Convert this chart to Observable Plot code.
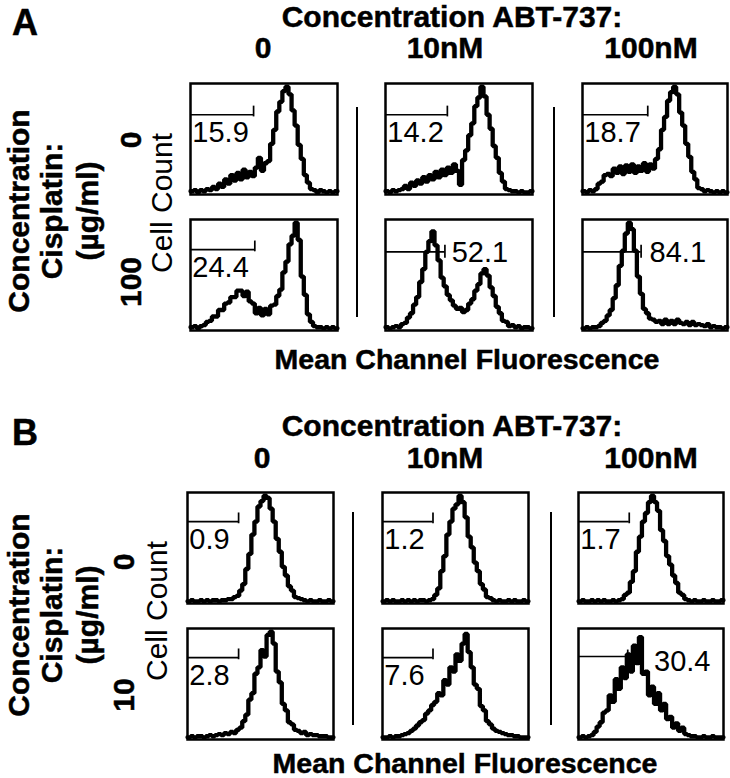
<!DOCTYPE html>
<html><head><meta charset="utf-8">
<script src="https://cdn.jsdelivr.net/npm/d3@7"></script>
<script src="https://cdn.jsdelivr.net/npm/@observablehq/plot@0.6"></script>
<style>
body{margin:0;background:#fff;}
#fig{position:relative;width:730px;height:778px;overflow:hidden;font-family:"Liberation Sans",Arial,sans-serif;color:#000;}
.lbl{position:absolute;white-space:nowrap;line-height:1;}
.b{font-weight:bold;-webkit-text-stroke:0.5px #000;}
.rot{transform:translate(-50%,-50%) rotate(-90deg);}
.ctr{transform:translateX(-50%);}
.sep{position:absolute;width:2px;background:#000;}
.cell{position:absolute;}
</style></head><body><div id="fig"></div><script>
// ---------- data ----------
const panelLetters = ["A", "B"];
const titleText = "Concentration ABT-737:";
const abtLevels = ["0", "10nM", "100nM"];
const cisLevelsA = ["0", "100"];
const cisLevelsB = ["0", "10"];
const cisTitle = ["Concentration", "Cisplatin:", "(µg/ml)"];
const yLabel = "Cell Count";
const xLabel = "Mean Channel Fluorescence";

// histogram counts (48 channel bins, normalised to peak ~100)
const a00 = [2,3,1,3,2,4,3,6,4,9,6,13,9,17,12,19,13,22,15,20,16,24,33,21,28,30,46,59,76,85,95,99,92,77,63,45,32,17,10,4,3,1,3,2,1,2,1,2];
const a01 = [2,1,3,2,3,4,7,4,10,7,12,9,15,11,17,13,20,15,22,17,24,19,27,21,8,31,40,54,65,81,89,99,90,73,60,44,33,19,11,4,3,2,2,1,2,1,1,2];
const a02 = [2,1,3,2,4,9,11,17,18,16,23,19,25,18,26,20,27,19,25,21,28,20,27,23,32,41,59,71,86,94,99,92,75,63,46,34,20,13,5,4,2,3,2,1,2,1,2,1];
const a10 = [2,3,1,3,4,7,8,12,12,18,18,24,25,30,30,36,36,31,35,26,24,15,20,13,19,14,22,23,31,37,53,63,79,87,99,83,49,32,14,7,3,2,2,1,2,1,2,1];
const a11 = [2,1,2,3,2,5,6,11,15,23,30,44,56,72,82,91,78,64,48,40,32,27,22,19,20,16,18,24,28,36,42,52,56,50,39,31,21,15,8,7,3,4,2,3,1,2,2,1];
const a12 = [1,2,1,2,2,3,6,8,13,18,29,41,59,73,89,99,93,73,49,33,19,15,10,9,7,8,5,9,5,8,5,9,6,5,7,4,7,4,5,4,3,5,2,3,2,2,1,2];
const b00 = [1,2,1,1,2,1,2,1,2,2,1,2,2,3,3,5,6,11,17,31,45,63,75,89,94,99,97,87,75,59,47,33,25,15,11,5,4,3,2,1,2,1,1,2,1,1,2,1];
const b01 = [1,2,1,2,1,1,2,1,2,1,2,1,2,2,1,2,3,7,13,29,43,63,75,87,91,99,93,79,61,51,37,29,17,12,5,4,2,1,2,1,1,2,1,2,1,1,2,1];
const b02 = [1,2,1,1,2,1,2,1,2,1,1,2,1,2,3,7,9,19,29,47,61,75,83,93,99,93,85,67,57,43,35,25,18,9,7,3,2,1,2,1,1,2,1,1,2,1,1,2];
const b10 = [1,2,1,2,2,1,2,3,2,3,4,3,5,4,6,5,8,10,16,22,36,42,60,66,82,76,96,99,88,62,52,32,26,15,13,8,7,5,6,3,4,3,3,2,2,2,1,1];
const b11 = [1,1,2,1,2,2,3,4,5,7,9,12,15,17,23,26,31,34,42,40,54,50,66,62,78,72,88,97,80,66,50,46,30,26,16,13,9,7,6,5,4,3,3,2,2,1,1,1];
const b12 = [1,2,1,2,3,6,11,15,24,26,40,34,55,46,66,56,78,62,86,70,94,60,62,40,48,32,42,26,32,18,20,10,14,7,10,4,3,2,2,1,1,2,1,1,2,1,1,1];

// gate percentages
const gatePctA = [[15.9, 14.2, 18.7], [24.4, 52.1, 84.1]];
const gatePctB = [[0.9, 1.2, 1.7], [2.8, 7.6, 30.4]];
// gate marker end channel (bin) and level
const gateEndA = [[20.6, 20.2, 21.6], [21.0, 19.4, 19.4]];
const gateEndB = [[16.8, 16.6, 16.8], [16.8, 16.6, 16.3]];
const gateLevelA = [[73, 73, 73], [74, 72, 72]];
const gateLevelB = [[75, 75, 75], [75, 75, 76]];
// where the percentage is written (channel bin of its left edge, level of its middle)
const labelBinA = [[0.6, 0.6, 0.6], [0.6, 21.6, 22.2]];
const labelBinB = [[0.6, 0.6, 0.6], [0.6, 0.6, 25.0]];
const labelLevelA = [[56, 56, 56], [57, 71, 71]];
const labelLevelB = [[58, 58, 58], [58, 58, 71]];

const histA = [[a00, a01, a02], [a10, a11, a12]];
const histB = [[b00, b01, b02], [b10, b11, b12]];

// ---------- layout (pixels) ----------
const geom = {
  A: {letter:[12,5], title:[452,2], colTop:33, colX:[263,445,651],
      boxX:[190,385,582], boxW:[147,147,145], boxY:[83,219], boxH:111,
      sepX:[357,554], sepY:[107,317],
      cisX:[19,52,88], cisY:211, rowX:131, rowY:[140,282], cellC:[162,203],
      xlab:[467,345]},
  B: {letter:[12,415], title:[452,411], colTop:443, colX:[262,445,651],
      boxX:[187,382,578], boxW:[146,146,145], boxY:[492,628], boxH:111,
      sepX:[353,551], sepY:[512,725],
      cisX:[19,52,88], cisY:615, rowX:124, rowY:[562,695], cellC:[157,611],
      xlab:[465,749]}
};

const fig = document.getElementById("fig");
function lbl(text, cls, style){
  const d = document.createElement("div");
  d.className = "lbl " + cls;
  d.textContent = text;
  Object.assign(d.style, style);
  fig.appendChild(d);
  return d;
}

function cell(vals, gx, gy, pct, lx, ly, w, h){
  const n = vals.length;
  const data = vals.map((v, i) => ({bin: i, count: v}));
  data.push({bin: n, count: vals[n - 1]});
  const gate = [{y: gy, x1: 0, x2: gx}];
  const right = lx > gx;
  const tick = right ? [{x: gx, y1: gy - 6, y2: gy + 6}] : [{x: gx, y1: gy - 2, y2: gy + 8}];
  const txt = [{x: lx, y: ly, t: String(pct)}];
  return Plot.plot({
    width: w + 4, height: h + 4, margin: 2,
    x: {domain: [0, n], axis: null},
    y: {domain: [-1, 102], axis: null},
    style: {background: "transparent", overflow: "visible"},
    marks: [
      Plot.line(data, {x: "bin", y: "count", curve: "step-after", stroke: "#000", strokeWidth: 4.3, strokeLinejoin: "miter"}),
      Plot.ruleY(gate, {y: "y", x1: "x1", x2: "x2", stroke: "#000", strokeWidth: 1.7}),
      Plot.ruleX(tick, {x: "x", y1: "y1", y2: "y2", stroke: "#000", strokeWidth: 1.7}),
      Plot.text(txt, {x: "x", y: "y", text: "t", textAnchor: "start", lineAnchor: "middle", fontSize: 29, fontFamily: "Liberation Sans, Arial, sans-serif", fill: "#000"}),
      Plot.frame({stroke: "#000", strokeWidth: 2.5})
    ]
  });
}

function panel(key, hist, pcts, ends, levels, lbins, llevels, cisLevels){
  const g = geom[key];
  lbl(key, "b", {left: g.letter[0] + "px", top: g.letter[1] + "px", fontSize: "36px"});
  lbl(titleText, "b ctr", {left: g.title[0] + "px", top: g.title[1] + "px", fontSize: "30px"});
  abtLevels.forEach((t, j) => lbl(t, "b ctr", {left: g.colX[j] + "px", top: g.colTop + "px", fontSize: "30px"}));
  cisTitle.forEach((t, k) => lbl(t, "b rot", {left: g.cisX[k] + "px", top: g.cisY + "px", fontSize: "30px"}));
  cisLevels.forEach((t, i) => lbl(t, "b rot", {left: g.rowX + "px", top: g.rowY[i] + "px", fontSize: "30px"}));
  lbl(yLabel, "rot", {left: g.cellC[0] + "px", top: g.cellC[1] + "px", fontSize: "30px"});
  lbl(xLabel, "b ctr", {left: g.xlab[0] + "px", top: g.xlab[1] + "px", fontSize: "28.5px"});
  g.sepX.forEach(x => {
    const s = document.createElement("div");
    s.className = "sep";
    Object.assign(s.style, {left: (x - 1) + "px", top: g.sepY[0] + "px", height: (g.sepY[1] - g.sepY[0]) + "px"});
    fig.appendChild(s);
  });
  for (let i = 0; i < 2; i++) for (let j = 0; j < 3; j++) {
    const w = g.boxW[j], h = g.boxH;
    const svg = cell(hist[i][j], ends[i][j], levels[i][j], pcts[i][j], lbins[i][j], llevels[i][j], w, h);
    const wrap = document.createElement("div");
    wrap.className = "cell";
    wrap.style.left = (g.boxX[j] - 2) + "px";
    wrap.style.top = (g.boxY[i] - 2) + "px";
    wrap.appendChild(svg);
    fig.appendChild(wrap);
  }
}

panel("A", histA, gatePctA, gateEndA, gateLevelA, labelBinA, labelLevelA, cisLevelsA);
panel("B", histB, gatePctB, gateEndB, gateLevelB, labelBinB, labelLevelB, cisLevelsB);
</script></body></html>
